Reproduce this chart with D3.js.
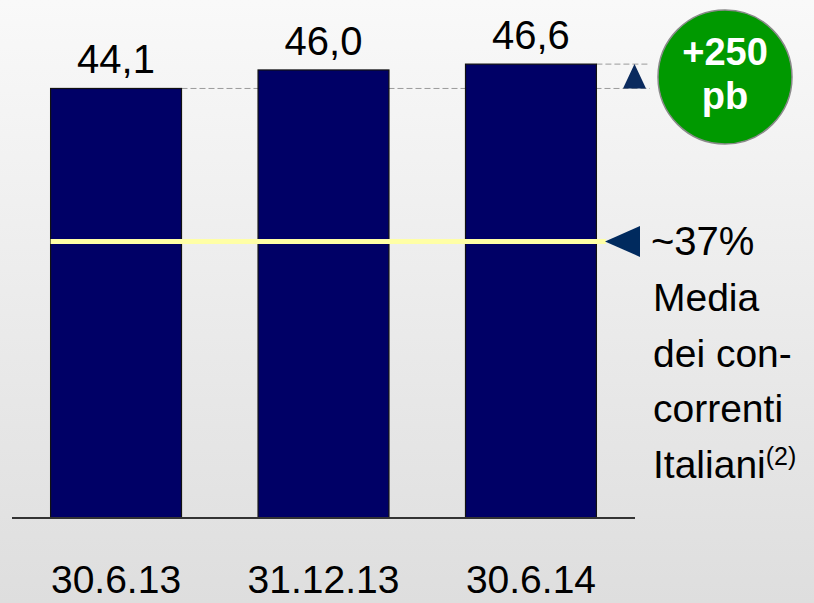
<!DOCTYPE html>
<html>
<head>
<meta charset="utf-8">
<script src="https://cdn.jsdelivr.net/npm/d3@7"></script>
<style>
  html, body { margin: 0; padding: 0; }
  body { width: 814px; height: 603px; overflow: hidden; }
  text { font-family: "Liberation Sans", Arial, sans-serif; }
</style>
</head>
<body>
<svg id="chart" width="814" height="603"></svg>
<script>
// Period labels and ratio values (%)
const periods = ["30.6.13", "31.12.13", "30.6.14"];
const ratios = [44.1, 46.0, 46.6];
const ratioLabels = ["44,1", "46,0", "46,6"];
// Peer benchmark marker (drawn as a reference band, not to scale)
const peerLineLevel = 28.4;
const peerLabel = "~37%";
const peerNoteLines = ["Media", "dei con-", "correnti", "Italiani"];
const peerNoteSup = "(2)";
const deltaLines = ["+250", "pb"];

const W = 814, H = 603;
const svg = d3.select("#chart");

// Background gradient
const defs = svg.append("defs");
const grad = defs.append("linearGradient").attr("id", "bg")
  .attr("x1", 0).attr("y1", 0).attr("x2", 0).attr("y2", 1);
grad.append("stop").attr("offset", "0%").attr("stop-color", "#f9f9f9");
grad.append("stop").attr("offset", "100%").attr("stop-color", "#dedede");
svg.append("rect").attr("width", W).attr("height", H).attr("fill", "url(#bg)");

const x = d3.scaleBand().domain(periods).range([12, 635])
  .paddingInner(0.369).paddingOuter(0.186);
const y = d3.scaleLinear().domain([0, 10]).range([518, 420.6]);

const first = periods[0], last = periods[periods.length - 1];

// Dashed guide lines from first and last bar tops
const guideX2 = 650;
svg.append("line")
  .attr("x1", x(first) + x.bandwidth()).attr("x2", guideX2)
  .attr("y1", y(ratios[0])).attr("y2", y(ratios[0]))
  .attr("stroke", "#9a9a9a").attr("stroke-width", 1).attr("stroke-dasharray", "6,3");
svg.append("line")
  .attr("x1", x(last) + x.bandwidth()).attr("x2", guideX2)
  .attr("y1", y(ratios[2])).attr("y2", y(ratios[2]))
  .attr("stroke", "#9a9a9a").attr("stroke-width", 1).attr("stroke-dasharray", "6,3");

// Bars
svg.selectAll("rect.bar").data(periods).enter().append("rect")
  .attr("class", "bar")
  .attr("x", d => x(d))
  .attr("y", (d, i) => y(ratios[i]))
  .attr("width", x.bandwidth())
  .attr("height", (d, i) => y(0) - y(ratios[i]))
  .attr("fill", "#000066")
  .attr("stroke", "#111").attr("stroke-width", 1.2);

// Value labels
svg.selectAll("text.val").data(periods).enter().append("text")
  .attr("class", "val")
  .attr("x", d => x(d) + x.bandwidth() / 2)
  .attr("y", (d, i) => y(ratios[i]) - 15)
  .attr("text-anchor", "middle")
  .attr("font-size", 40).attr("fill", "#000")
  .text((d, i) => ratioLabels[i]);

// Baseline axis
svg.append("line").attr("x1", 12).attr("x2", 635)
  .attr("y1", y(0)).attr("y2", y(0))
  .attr("stroke", "#333").attr("stroke-width", 2);

// Category labels
svg.selectAll("text.cat").data(periods).enter().append("text")
  .attr("class", "cat")
  .attr("x", d => x(d) + x.bandwidth() / 2)
  .attr("y", 593)
  .attr("text-anchor", "middle")
  .attr("font-size", 39).attr("fill", "#000")
  .text(d => d);

// Peer benchmark line
const py = y(peerLineLevel);
svg.append("line").attr("x1", x(first)).attr("x2", 606)
  .attr("y1", py).attr("y2", py)
  .attr("stroke", "#ffffa6").attr("stroke-width", 5);
svg.append("path")
  .attr("d", `M605,${py} L640,${py - 15.5} L640,${py + 15.5} Z`)
  .attr("fill", "#002a5e");

// Benchmark annotation
svg.append("text").attr("x", 651).attr("y", 255)
  .attr("font-size", 40).attr("fill", "#000").text(peerLabel);
const note = svg.append("text").attr("font-size", 39).attr("fill", "#000");
peerNoteLines.forEach((t, i) => {
  note.append("tspan").attr("x", 653).attr("y", 311 + i * 55.5).text(t);
  if (i === peerNoteLines.length - 1) {
    note.append("tspan").attr("font-size", 25).attr("dy", -13).text(peerNoteSup);
  }
});

// Increase arrow
const ty1 = y(ratios[2]), ty2 = y(ratios[0]);
svg.append("path")
  .attr("d", `M634.5,${ty1} L646,${ty2} L623,${ty2} Z`)
  .attr("fill", "#0a2a5e");

// Delta badge
svg.append("circle").attr("cx", 725).attr("cy", 77).attr("r", 67)
  .attr("fill", "#009900").attr("stroke", "#8a8a8a").attr("stroke-width", 1.5);
svg.append("text").attr("x", 725).attr("y", 65)
  .attr("text-anchor", "middle").attr("font-size", 38).attr("font-weight", "bold")
  .attr("fill", "#fff").text(deltaLines[0]);
svg.append("text").attr("x", 725).attr("y", 109)
  .attr("text-anchor", "middle").attr("font-size", 38).attr("font-weight", "bold")
  .attr("fill", "#fff").text(deltaLines[1]);
</script>
</body>
</html>
